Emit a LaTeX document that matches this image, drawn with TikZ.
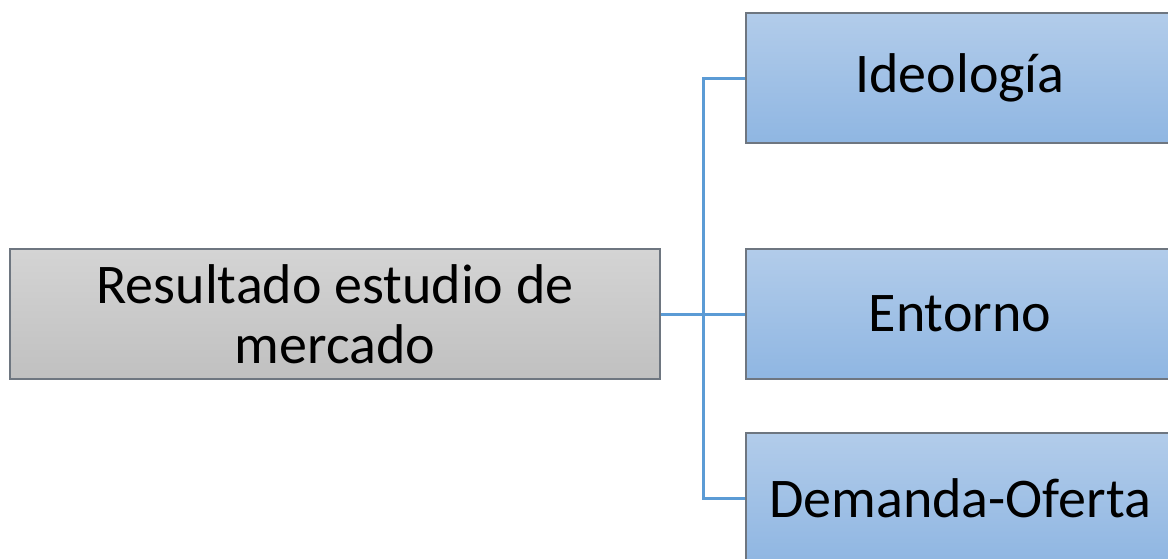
\documentclass[tikz,border=0pt]{standalone}
\usepackage{fontspec}
\setmainfont{Carlito}
\definecolor{bluetop}{RGB}{178,204,234}
\definecolor{bluebot}{RGB}{143,182,226}
\definecolor{greytop}{RGB}{212,212,212}
\definecolor{greybot}{RGB}{192,192,192}
\definecolor{edgegrey}{RGB}{110,118,128}
\definecolor{linkblue}{RGB}{91,155,213}
\begin{document}
\begin{tikzpicture}[x=1pt,y=-1pt,
  bluebox/.style={draw=edgegrey,line width=1.2pt,top color=bluetop,bottom color=bluebot,
    minimum width=428pt,minimum height=130pt,inner sep=0pt,font=\fontsize{56}{60}\selectfont},
  greybox/.style={draw=edgegrey,line width=1.2pt,top color=greytop,bottom color=greybot,
    minimum width=650pt,minimum height=130pt,inner sep=0pt,align=center,
    font=\fontsize{56}{60}\selectfont},
  link/.style={draw=linkblue,line width=3pt}]
\useasboundingbox (0,0) rectangle (1168,558);
\clip (0,0) rectangle (1168,558);
\node[greybox] (res) at (335,314) {Resultado estudio de\\mercado};
\node[bluebox] (ideo) at (960,78) {Ideología};
\node[bluebox] (ent) at (960,314) {Entorno};
\node[bluebox] (dem) at (960,498) {Demanda-Oferta};
\coordinate (j) at (703,314);
\draw[link] (res.east) -- (ent.west);
\draw[link] (ideo.west) -| (j) |- (dem.west);
\end{tikzpicture}
\end{document}
